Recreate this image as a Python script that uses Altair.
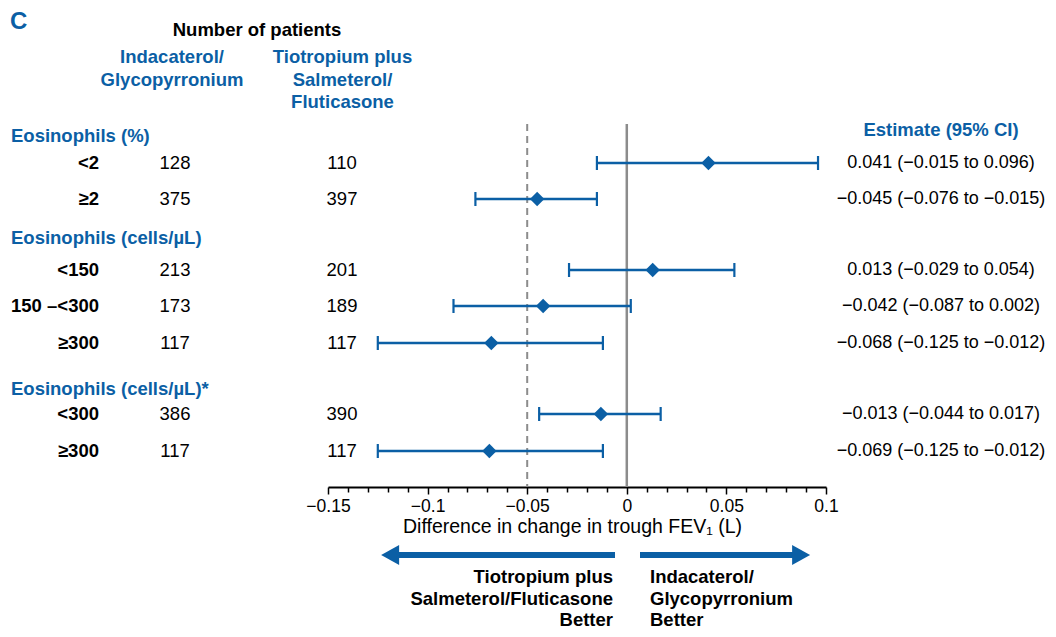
import altair as alt
import pandas as pd

# ---------------- data ----------------
group_names = ["Eosinophils (%)", "Eosinophils (cells/µL)", "Eosinophils (cells/µL)*"]
subgroups = ["<2", "≥2", "<150", "150 –<300", "≥300", "<300", "≥300"]
n_indacaterol = [128, 375, 213, 173, 117, 386, 117]
n_tiotropium = [110, 397, 201, 189, 117, 390, 117]
estimate = [0.041, -0.045, 0.013, -0.042, -0.068, -0.013, -0.069]
ci_low = [-0.015, -0.076, -0.029, -0.087, -0.125, -0.044, -0.125]
ci_high = [0.096, -0.015, 0.054, 0.002, -0.012, 0.017, -0.012]
x_tick_values = [-0.15, -0.14, -0.13, -0.12, -0.11, -0.10, -0.09, -0.08, -0.07,
                 -0.06, -0.05, -0.04, -0.03, -0.02, -0.01, 0.0, 0.01, 0.02, 0.03,
                 0.04, 0.05, 0.06, 0.07, 0.08, 0.09, 0.10]
null_value = [0.0]
reference_value = [-0.05]
arm_a_lines = ["Indacaterol/", "Glycopyrronium"]
arm_b_lines = ["Tiotropium plus", "Salmeterol/", "Fluticasone"]
better_left_lines = ["Tiotropium plus", "Salmeterol/Fluticasone", "Better"]
better_right_lines = ["Indacaterol/", "Glycopyrronium", "Better"]

# ---------------- layout ----------------
W, H, SLOT = 1040, 479, 36.0
ROW_SLOT = [4.306, 5.306, 7.278, 8.278, 9.306, 11.278, 12.306]
GROUP_SLOT = [3.556, 6.389, 10.583]
BLUE = "#0B5FA5"
GREY = "#8C8C8C"
FONT = "Liberation Sans"
FS = 18.5


def fmt(v):
    return f"{v:.3f}".replace("-", "\u2212")


rows = pd.DataFrame({
    "label": subgroups,
    "n1": [str(v) for v in n_indacaterol],
    "n2": [str(v) for v in n_tiotropium],
    "est": estimate,
    "lo": ci_low,
    "hi": ci_high,
    "etext": [f"{fmt(e)} ({fmt(l)} to {fmt(h)})" for e, l, h in zip(estimate, ci_low, ci_high)],
    "slot": ROW_SLOT,
})
groups = pd.DataFrame({"text": group_names, "slot": GROUP_SLOT})
caps = pd.DataFrame({"x": ci_low + ci_high, "slot": ROW_SLOT + ROW_SLOT})

ys = alt.Scale(domain=[0, H / SLOT], reverse=True, nice=False, zero=False)
xs = alt.Scale(domain=[-0.15, 0.1], range=[320, 818], nice=False, zero=False)

major = "abs(round(datum.value*100)) % 5 === 0"
xaxis = alt.Axis(
    values=x_tick_values,
    title="Difference in change in trough FEV\u2081 (L)",
    labelExpr=f"{major} ? ((datum.value < -0.0001 ? '\u2212' : '') + format(abs(datum.value), '~g')) : ''",
    grid=False,
    domainColor="black",
    domainWidth=1.8,
    tickColor="black",
    tickWidth=1.5,
    tickSize={"condition": {"test": major, "value": 7}, "value": 5},
    labelFont=FONT,
    labelFontSize=17.5,
    labelColor="black",
    labelPadding=3,
    labelFlush=False,
    labelOverlap=False,
    titleFont=FONT,
    titleFontSize=19.5,
    titleFontWeight="normal",
    titleColor="black",
    titlePadding=3,
    titleX=564,
)


def X(field):
    return alt.X(field, type="quantitative", scale=xs, axis=xaxis)


def Y(field):
    return alt.Y(field, type="quantitative", scale=ys, axis=None)


def text_layer(df, field, x_px, align, weight, color, size=FS):
    return alt.Chart(df).mark_text(
        align=align, baseline="middle", font=FONT, fontSize=size,
        fontWeight=weight, color=color
    ).encode(x=alt.value(x_px), y=Y("slot"), text=alt.Text(field, type="nominal"))


# reference lines
zero_df = pd.DataFrame({"x": null_value, "top": [116 / SLOT], "bot": [H / SLOT]})
ref_df = pd.DataFrame({"x": reference_value, "top": [116 / SLOT], "bot": [H / SLOT]})
zero_line = alt.Chart(zero_df).mark_rule(color=GREY, strokeWidth=2.5).encode(
    x=X("x"), y=Y("top"), y2="bot")
ref_line = alt.Chart(ref_df).mark_rule(color=GREY, strokeWidth=2, strokeDash=[7, 5]).encode(
    x=X("x"), y=Y("top"), y2="bot")

ci = alt.Chart(rows).mark_rule(color=BLUE, strokeWidth=2.5).encode(
    x=X("lo"), x2="hi", y=Y("slot"))
cap = alt.Chart(caps).mark_point(
    shape="M0,-1L0,1", size=196, filled=False, color=BLUE, strokeWidth=2.2, opacity=1
).encode(x=X("x"), y=Y("slot"))
diamonds = alt.Chart(rows).mark_point(
    shape="diamond", size=210, filled=True, color=BLUE, opacity=1
).encode(x=X("est"), y=Y("slot"))

labels = text_layer(rows, "label", 91, "right", "bold", "black")
n1 = text_layer(rows, "n1", 167, "center", "normal", "black")
n2 = text_layer(rows, "n2", 334, "center", "normal", "black")
etext = text_layer(rows, "etext", 933, "center", "normal", "black", 18)
gtext = text_layer(groups, "text", 3, "left", "bold", BLUE)

hdr_c = text_layer(pd.DataFrame({"text": ["C"], "slot": [13.5 / SLOT]}), "text", 2, "left", "bold", BLUE, 24)
hdr_n = text_layer(pd.DataFrame({"text": ["Number of patients"], "slot": [22 / SLOT]}), "text", 249, "center", "bold", "black")
hdr_a = text_layer(pd.DataFrame({"text": arm_a_lines, "slot": [49.3 / SLOT, 72 / SLOT]}), "text", 164, "center", "bold", BLUE)
hdr_b = text_layer(pd.DataFrame({"text": arm_b_lines, "slot": [49.3 / SLOT, 72 / SLOT, 94.3 / SLOT]}), "text", 334.5, "center", "bold", BLUE)
hdr_e = text_layer(pd.DataFrame({"text": ["Estimate (95% CI)"], "slot": [122 / SLOT]}), "text", 933, "center", "bold", BLUE)

bottom_slots = [569 / SLOT, 590.5 / SLOT, 612 / SLOT]
better_l = text_layer(pd.DataFrame({"text": better_left_lines, "slot": bottom_slots}), "text", 605, "right", "bold", "black")
better_r = text_layer(pd.DataFrame({"text": better_right_lines, "slot": bottom_slots}), "text", 642, "left", "bold", "black")

arrow_slot = 547 / SLOT
shafts = alt.Chart(pd.DataFrame({"x": [-0.1179, 0.00663], "x2": [-0.00592, 0.0869], "slot": [arrow_slot] * 2})).mark_rule(
    color=BLUE, strokeWidth=6, strokeCap="butt").encode(x=X("x"), x2="x2", y=Y("slot"))
head_l = alt.Chart(pd.DataFrame({"x": [-0.1188], "slot": [arrow_slot]})).mark_point(
    shape="M-0.9,0L0.9,-1L0.9,1Z", size=400, filled=True, color=BLUE, opacity=1).encode(x=X("x"), y=Y("slot"))
head_r = alt.Chart(pd.DataFrame({"x": [0.0875], "slot": [arrow_slot]})).mark_point(
    shape="M0.9,0L-0.9,-1L-0.9,1Z", size=400, filled=True, color=BLUE, opacity=1).encode(x=X("x"), y=Y("slot"))

chart = alt.layer(
    ref_line, zero_line, ci, cap, diamonds,
    labels, n1, n2, etext, gtext,
    hdr_c, hdr_n, hdr_a, hdr_b, hdr_e,
    shafts, head_l, head_r, better_l, better_r,
).properties(
    width=W, height=H,
    autosize=alt.AutoSizeParams(type="none"),
    padding={"left": 0, "top": 0, "right": 0, "bottom": 142},
    background="white",
).configure_view(stroke=None)

chart.save("out.html", embed_options={"renderer": "svg", "actions": False})
